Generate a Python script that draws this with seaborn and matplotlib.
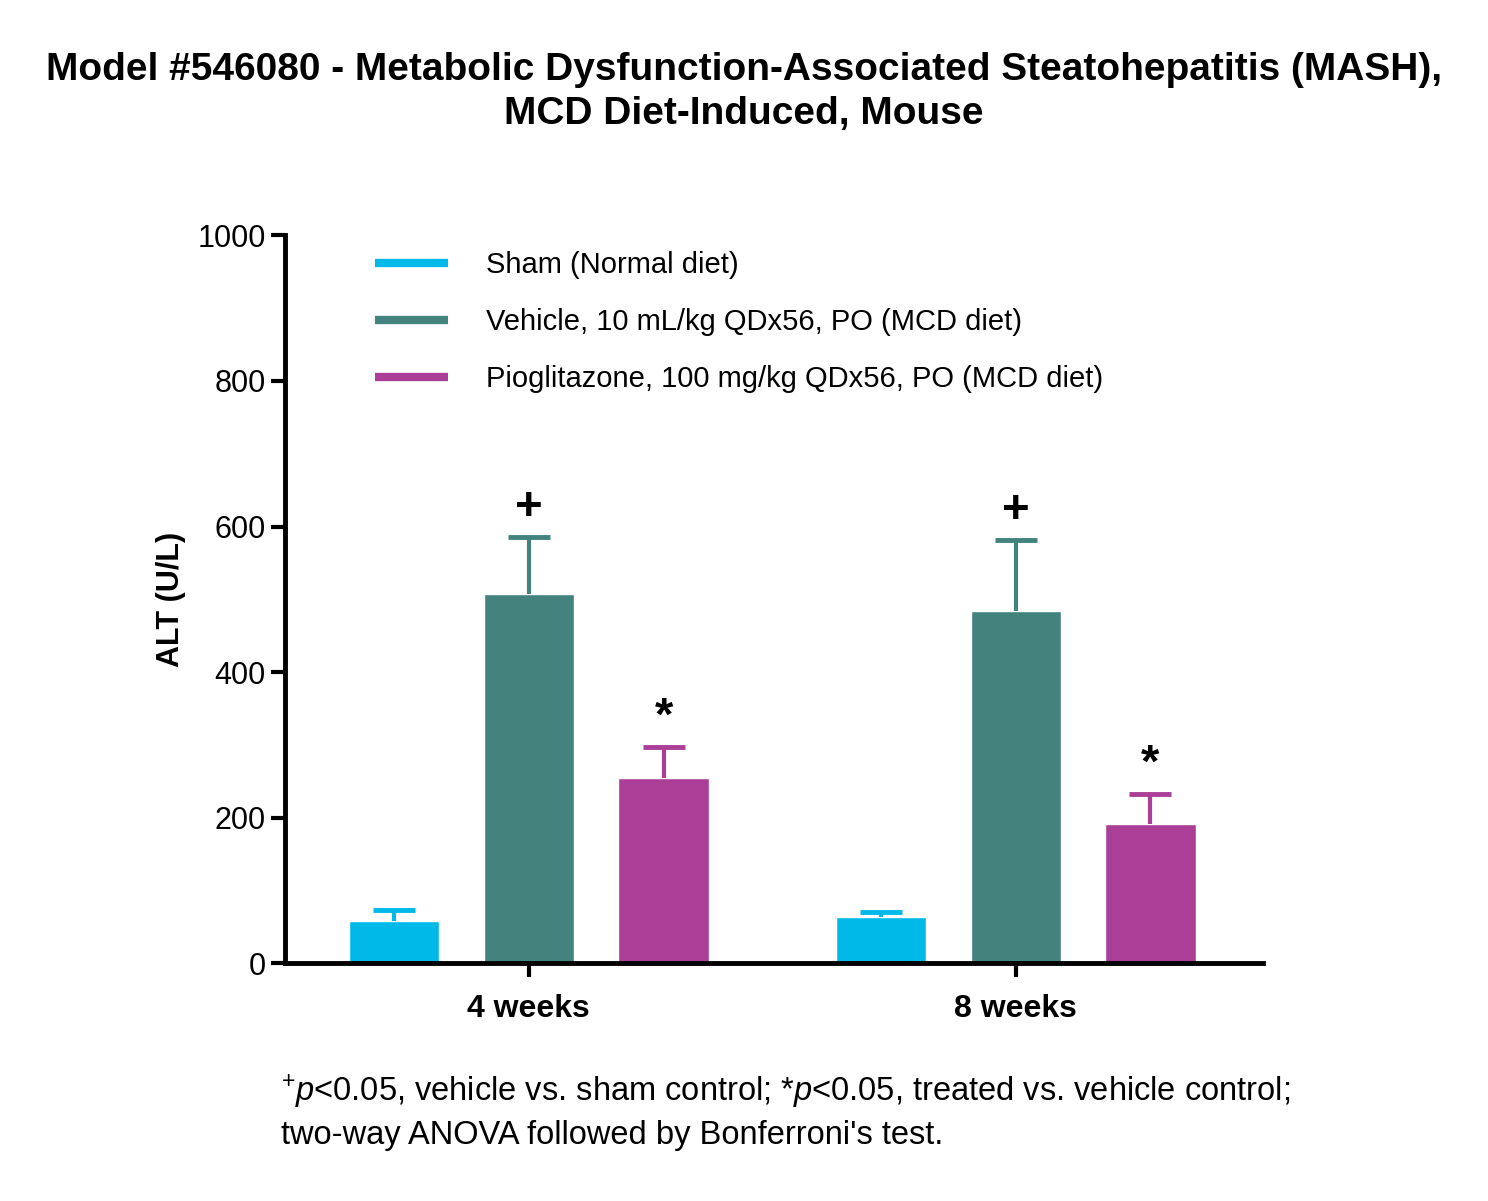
import numpy as np
import pandas as pd
import matplotlib
matplotlib.use('Agg')
import matplotlib.pyplot as plt
from matplotlib.lines import Line2D
import seaborn as sns

weeks = ['4 weeks', '8 weeks']
groups = ['Sham (Normal diet)', 'Vehicle, 10 mL/kg QDx56, PO (MCD diet)',
          'Pioglitazone, 100 mg/kg QDx56, PO (MCD diet)']
means = {groups[0]: [58, 63], groups[1]: [507, 484], groups[2]: [254, 191]}
sem = {groups[0]: [15, 8], groups[1]: [78, 97], groups[2]: [43, 42]}
marks = {groups[1]: ['+', '+'], groups[2]: ['*', '*']}
colors = ['#00B9E8', '#43827D', '#AB3F97']

rows = []
for g in groups:
    for i, w in enumerate(weeks):
        rows.append({'week': w, 'group': g, 'alt': means[g][i]})
df = pd.DataFrame(rows)

sns.set_style('ticks')
plt.rcParams['font.family'] = ['Liberation Sans', 'DejaVu Sans']
plt.rcParams['mathtext.fontset'] = 'custom'
plt.rcParams['mathtext.rm'] = 'Liberation Sans'
plt.rcParams['mathtext.it'] = 'Liberation Sans:italic'
plt.rcParams['text.color'] = 'black'
plt.rcParams['axes.labelcolor'] = 'black'
plt.rcParams['xtick.color'] = 'black'
plt.rcParams['ytick.color'] = 'black'
plt.rcParams['axes.edgecolor'] = 'black'

fig = plt.figure(figsize=(14.88, 12.01), dpi=100)
ax = fig.add_axes([0.1915, 0.198, 0.657, 0.606])
sns.barplot(data=df, x='week', y='alt', hue='group', hue_order=groups,
            palette=colors, width=0.83, gap=0.33, saturation=1, ax=ax,
            errorbar=None, legend=False)

# one-sided error bars (upper only), from patch centers
cap = 0.043
for k, g in enumerate(groups):
    for i in range(2):
        p = ax.patches[k * 2 + i]
        xc = p.get_x() + p.get_width() / 2
        top = means[g][i] + sem[g][i]
        ax.vlines(xc, means[g][i], top, color=colors[k], lw=3)
        ax.hlines(top, xc - cap, xc + cap, color=colors[k], lw=3.5)
        if g in marks:
            ax.text(xc, top + 10, marks[g][i], ha='center',
                    va='bottom', fontsize=34, fontweight='bold')

ax.set_xlim(-0.501, 1.507)
ax.set_ylim(0, 1000)
ax.set_yticks([0, 200, 400, 600, 800, 1000])
ax.set_xlabel('')
ax.set_ylabel('ALT (U/L)', fontsize=22, fontweight='bold', labelpad=8)
sns.despine(ax=ax)
for s in ['left', 'bottom']:
    ax.spines[s].set_linewidth(3.5)
ax.tick_params(axis='both', width=3, length=10)
ax.tick_params(axis='y', labelsize=22, pad=4)
ax.tick_params(axis='x', labelsize=23, pad=12)
for t in ax.get_xticklabels():
    t.set_fontweight('bold')

handles = [Line2D([0], [0], color=c, lw=6, solid_capstyle='butt') for c in colors]
ax.legend(handles, groups, loc='upper left', bbox_to_anchor=(0.065, 1.015),
          frameon=False, fontsize=21, handlelength=2.5, handletextpad=1.3,
          labelspacing=1.0)

fig.text(0.5, 0.957, 'Model #546080 - Metabolic Dysfunction-Associated Steatohepatitis (MASH),\nMCD Diet-Induced, Mouse',
         ha='center', va='top', fontsize=28, fontweight='bold', linespacing=1.3)
fig.text(0.189, 0.042, "$^{+}\\mathit{p}$<0.05, vehicle vs. sham control; *$\\mathit{p}$<0.05, treated vs. vehicle control;\ntwo-way ANOVA followed by Bonferroni's test.",
         ha='left', va='bottom', fontsize=23.5, linespacing=1.35)

fig.savefig('out.png', dpi=100)
